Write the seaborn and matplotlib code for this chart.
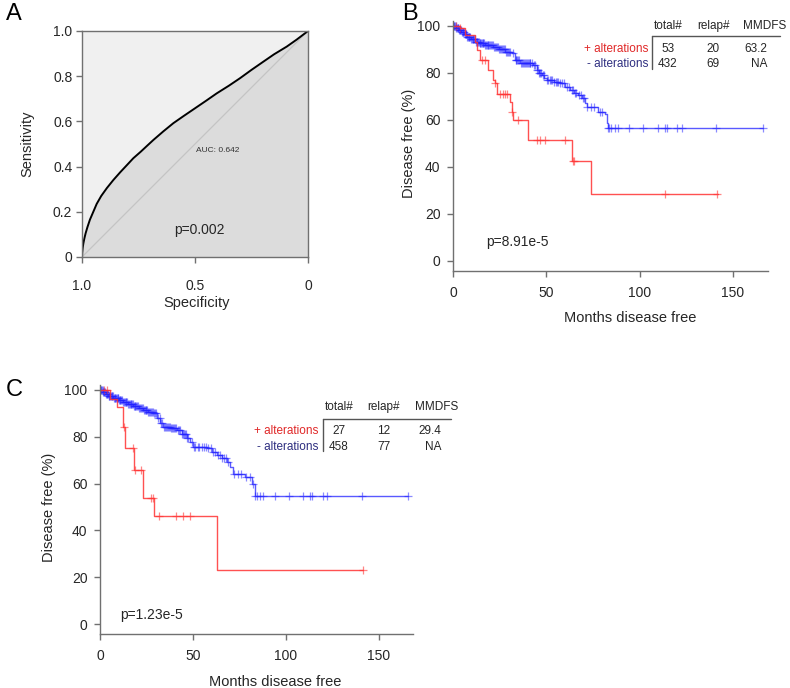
import numpy as np
import matplotlib
matplotlib.use("Agg")
import matplotlib.pyplot as plt
import seaborn as sns

# ROC curve (panel A)
roc_spec = [1.0, 0.999, 0.997, 0.994, 0.99, 0.984, 0.976, 0.965, 0.95, 0.935, 0.915,
            0.89, 0.861, 0.83, 0.8, 0.773, 0.74, 0.71, 0.684, 0.64, 0.596, 0.55, 0.5,
            0.45, 0.404, 0.35, 0.301, 0.25, 0.198, 0.15, 0.094, 0.05, 0.0]
roc_sens = [0.0, 0.02, 0.04, 0.06, 0.08, 0.105, 0.132, 0.165, 0.2, 0.235, 0.27, 0.305,
            0.341, 0.376, 0.408, 0.437, 0.466, 0.494, 0.518, 0.556, 0.592, 0.624, 0.658,
            0.692, 0.724, 0.758, 0.791, 0.828, 0.864, 0.897, 0.931, 0.962, 1.0]
diag = [0, 1]

# panel B, Kaplan-Meier steps
b_red_t = [0, 3.8, 6.4, 11.8, 12.7, 14.5, 18.9, 21.6, 22.5, 23.4, 30.5, 31.4, 32.3,
           40.4, 64.0, 73.8, 142.1]
b_red_s = [100, 99, 96.2, 93.3, 89.8, 85.5, 81.3, 77, 75.6, 71, 67.8, 63.5, 60,
           51.5, 42.6, 28.4, 28.4]
b_red_cens = [1.5, 3.8, 15.4, 17.1, 22.5, 25.2, 27.0, 27.9, 28.8, 31.4, 35.0, 44.8,
              46.6, 49.3, 60.0, 64.1, 64.8, 113.6, 141.3]

b_blue_t = [0, 1.5, 3, 4.5, 6, 7.3, 9.5, 11.8, 14, 17, 21.6, 24.5, 27.9, 31.4, 33.2,
            35.9, 43, 44.8, 46, 47.5, 49, 50.2, 54, 57.3, 60, 62.7, 65, 67.1, 68.9,
            70.7, 71.6, 77.9, 81.4, 82.3, 83.2, 165.9]
b_blue_s = [100, 99.3, 98.5, 97.6, 96.5, 95.3, 94.4, 93.3, 92.6, 92, 91.2, 90.3, 89,
            88.4, 85.5, 84.1, 83.4, 81.3, 80.2, 79.1, 78, 77, 76.3, 75.6, 74.2, 72.8,
            71.6, 70.6, 69.2, 67.1, 65.7, 63.3, 62.5, 58.6, 56.5, 56.5]
b_blue_cens = [0.3, 0.6, 1, 1.4, 1.8, 2.2, 2.5, 2.9, 3.2, 3.6, 4, 4.4, 4.8, 5.2, 5.5, 5.9,
               6.3, 6.7, 7, 7.5, 8, 8.4, 8.8, 9.2, 9.6, 10, 10.5, 10.9, 11.2, 11.7, 12.2,
               12.6, 13, 13.4, 13.8, 14.2, 14.6, 15, 15.5, 15.9, 16.3, 16.7, 17.2, 17.6,
               18, 18.5, 19, 19.5, 20, 20.4, 20.8, 21.4, 22, 22.5, 23, 23.5, 24, 24.6,
               25.2, 25.7, 26.3, 26.7, 27.2, 27.8, 28.5, 29, 29.5, 30.2, 30.8, 32, 33.5,
               34, 34.5, 35, 35.5, 36.5, 37, 37.5, 38, 38.5, 39, 39.5, 40, 40.5, 41, 41.5,
               42.2, 43.5, 44, 45, 45.5, 46, 46.5, 47, 48, 48.5, 50.5, 51, 52, 52.5, 53,
               54, 55, 55.5, 56.5, 57.5, 58.5, 59.5, 61, 62, 63.5, 64.5, 65.5, 66, 67.5,
               68.5, 69.5, 70, 72, 74, 75.5, 78.5, 80, 83.2, 83.6, 84.5, 86.8, 88.6,
               94.3, 102, 109.7, 113.6, 114.5, 119.8, 122.5, 140.7, 165.9]

# panel C, Kaplan-Meier steps
c_red_t = [0, 5.4, 9.0, 12.2, 13.6, 18.4, 22.9, 29.2, 63.1, 141.6]
c_red_s = [100, 96.3, 92.6, 84.3, 75.1, 65.8, 54, 46.3, 23.1, 23.1]
c_red_cens = [2, 3.5, 13.1, 17.6, 19, 22, 27.4, 28.7, 31.9, 40.9, 44.4, 48.4, 141.6]

c_blue_t = [0, 1.5, 3, 4.5, 7.2, 10, 12.5, 15, 17.9, 21, 23.3, 26, 28.7, 30.5, 32.5,
            34, 38, 41.2, 44, 46.6, 48.5, 50.2, 54, 57.3, 60, 62.7, 65.5, 68.1, 70,
            71.7, 78, 81.6, 83.3, 165.8]
c_blue_s = [100, 99.2, 98.4, 97.5, 96.4, 95.7, 95, 94.1, 93.2, 92.3, 91.5, 90.8, 90,
            87.9, 86, 84.3, 83.6, 82.9, 81.2, 79.4, 77.6, 75.8, 75.5, 75.1, 73.6, 72.2,
            70.8, 69.4, 67, 64.1, 62.9, 59.8, 54.7, 54.7]
c_blue_cens = [0.3, 0.6, 1, 1.4, 1.7, 2.1, 2.4, 2.8, 3.1, 3.5, 3.8, 4.2, 4.6, 5, 5.4, 5.8,
               6.2, 6.6, 7, 7.4, 7.8, 8.2, 8.6, 9, 9.5, 9.9, 10.3, 10.7, 11, 11.5, 12,
               12.5, 13, 13.4, 13.8, 14.2, 14.7, 15.1, 15.5, 16, 16.4, 16.8, 17.3, 17.7,
               18.2, 18.6, 19, 19.5, 20, 20.5, 21, 21.5, 22, 22.5, 23, 23.5, 24, 24.5,
               25, 25.5, 26, 26.5, 27, 27.5, 28, 28.5, 29, 29.5, 30, 31, 32, 33, 33.5,
               34.5, 35, 35.5, 36, 36.5, 37, 37.5, 38, 38.5, 39, 40, 40.5, 41, 42, 42.5,
               43, 44, 44.5, 45, 45.5, 46.5, 47, 47.5, 49.5, 50.5, 51, 52.5, 53.5, 55, 56,
               57, 58, 59.5, 61, 62, 63.5, 64.5, 65.5, 66.5, 67.5, 69, 72, 74, 76, 78.5,
               80.5, 82.4, 83.3, 84.6, 86, 87.8, 94.1, 101.8, 109.3, 112.9, 113.8, 119.7,
               122.2, 140.7, 165.8]

# summary tables
tab_header = ["total#", "relap#", "MMDFS"]
tab_groups = ["+ alterations", "- alterations"]
b_tab = [["53", "20", "63.2"], ["432", "69", "NA"]]
c_tab = [["27", "12", "29.4"], ["458", "77", "NA"]]

RED = "#ff3333"
BLUE = "#2222ff"
GRAY = "#707070"
TXT = "#262626"

sns.set_theme(style="white")
plt.rcParams["font.family"] = ["Liberation Sans", "DejaVu Sans"]

W, H = 790, 688
fig = plt.figure(figsize=(7.9, 6.88), dpi=100)


def fx(x):
    return x / W


def fy(y):
    return 1 - y / H


def style_axes(ax, left_only=True):
    for side in ["top", "right", "left", "bottom"]:
        ax.spines[side].set_color(GRAY)
        ax.spines[side].set_linewidth(1)
    if left_only:
        ax.spines["top"].set_visible(False)
        ax.spines["right"].set_visible(False)
    ax.tick_params(axis="both", direction="out", length=4, width=1, color=GRAY,
                   labelsize=10, labelcolor=TXT, left=True, bottom=True)


#%%
# Panel A: ROC

ax_a = fig.add_axes([fx(82), fy(257), 226 / W, 226 / H])
ax_a.fill_between(roc_spec, roc_sens, 1, color="#f0f0f0", lw=0)
ax_a.fill_between(roc_spec, 0, roc_sens, color="#dcdcdc", lw=0)
ax_a.plot([1, 0], diag, color="#c4c4c4", lw=0.9)
sns.lineplot(x=roc_spec, y=roc_sens, sort=False, estimator=None, color="black",
             lw=1.4, ax=ax_a)
ax_a.set_xlim(1, 0)
ax_a.set_ylim(0, 1)
style_axes(ax_a, left_only=False)
ax_a.tick_params(axis="x", pad=12)
ax_a.tick_params(axis="y", pad=3)
ax_a.set_xticks([1.0, 0.5, 0.0])
ax_a.set_xticklabels(["1.0", "0.5", "0"])
ax_a.set_yticks([0, 0.2, 0.4, 0.6, 0.8, 1.0])
ax_a.set_yticklabels(["0", "0.2", "0.4", "0.6", "0.8", "1.0"])
ax_a.text(0.4, 0.47, "AUC: 0.642", fontsize=6, color="#333333", ha="center", va="center")
ax_a.text(0.48, 0.12, "p=0.002", fontsize=10, color=TXT, ha="center", va="center")
fig.text(fx(197), fy(303), "Specificity", fontsize=10.5, color=TXT, ha="center", va="center")
fig.text(fx(27), fy(144), "Sensitivity", fontsize=10.5, color=TXT, ha="center",
         va="center", rotation=90)


#%%
# Kaplan-Meier panels

def km_panel(ax, red_t, red_s, red_c, blue_t, blue_s, blue_c, xmax):
    for t, s, c, col, al in [(blue_t, blue_s, blue_c, BLUE, 0.75),
                             (red_t, red_s, red_c, RED, 0.85)]:
        sns.lineplot(x=t, y=s, drawstyle="steps-post", sort=False, estimator=None,
                     color=col, lw=1, alpha=al, ax=ax)
        idx = np.searchsorted(t, c, side="right") - 1
        ys = np.array(s)[idx]
        sns.scatterplot(x=c, y=ys, marker="+", s=30, color=col, alpha=al * 0.7,
                        linewidth=0.9, ax=ax)
    ax.set_xlim(0, xmax)
    ax.set_ylim(-4.27, 102)
    ax.set_xticks([0, 50, 100, 150])
    ax.set_yticks([0, 20, 40, 60, 80, 100])
    style_axes(ax)
    ax.tick_params(axis="x", pad=7)
    ax.tick_params(axis="y", pad=5)
    ax.set_xlabel("")
    ax.set_ylabel("")


def table(rows, cols_x, mm_right, y_head, y_rows, x_vline, x_hend, y_hline, y_vend,
          groups_right):
    for x, h in zip(cols_x, tab_header):
        fig.text(fx(x), fy(y_head), h, fontsize=8.5, color=TXT, ha="center", va="center")
    for r, (y, g) in enumerate(zip(y_rows, tab_groups)):
        gcol = "#e02828" if r == 0 else "#2e2e80"
        fig.text(fx(groups_right), fy(y), g, fontsize=8.5, color=gcol, ha="right",
                 va="center")
        for j, v in enumerate(rows[r]):
            if j == 2:
                fig.text(fx(mm_right), fy(y), v, fontsize=8.5, color=TXT, ha="right",
                         va="center")
            else:
                fig.text(fx(cols_x[j]), fy(y), v, fontsize=8.5, color=TXT, ha="center",
                         va="center")
    fig.add_artist(plt.Line2D([fx(x_vline), fx(x_hend)], [fy(y_hline), fy(y_hline)],
                              transform=fig.transFigure, color="#555555", lw=1))
    fig.add_artist(plt.Line2D([fx(x_vline), fx(x_vline)], [fy(y_hline), fy(y_vend)],
                              transform=fig.transFigure, color="#555555", lw=1))


ax_b = fig.add_axes([fx(453), fy(271), 315 / W, (271 - 21.3) / H])
km_panel(ax_b, b_red_t, b_red_s, b_red_cens, b_blue_t, b_blue_s, b_blue_cens, 168.75)
ax_b.text(18, 8, "p=8.91e-5", fontsize=10, color=TXT, ha="left", va="center")
fig.text(fx(630), fy(318), "Months disease free", fontsize=10.5, color=TXT,
         ha="center", va="center")
fig.text(fx(409), fy(143), "Disease free (%)", fontsize=10.5, color=TXT, ha="center",
         va="center", rotation=90)
table(b_tab, [668, 713, 765], 767, 26, [49, 64], 652, 780, 36, 69, 648)

ax_c = fig.add_axes([fx(100), fy(634), 313 / W, (634 - 385.3) / H])
km_panel(ax_c, c_red_t, c_red_s, c_red_cens, c_blue_t, c_blue_s, c_blue_cens, 168.3)
ax_c.text(11, 4, "p=1.23e-5", fontsize=10, color=TXT, ha="left", va="center")
fig.text(fx(275), fy(682), "Months disease free", fontsize=10.5, color=TXT,
         ha="center", va="center")
fig.text(fx(49), fy(507), "Disease free (%)", fontsize=10.5, color=TXT, ha="center",
         va="center", rotation=90)
table(c_tab, [339, 384, 437], 441, 407, [431, 447], 323, 451, 419, 451, 318)

# panel letters
fig.text(fx(14), fy(14), "A", fontsize=17, color="black", ha="center", va="center")
fig.text(fx(410), fy(14), "B", fontsize=17, color="black", ha="center", va="center")
fig.text(fx(14), fy(390), "C", fontsize=17, color="black", ha="center", va="center")

fig.savefig("out.png", dpi=100)
